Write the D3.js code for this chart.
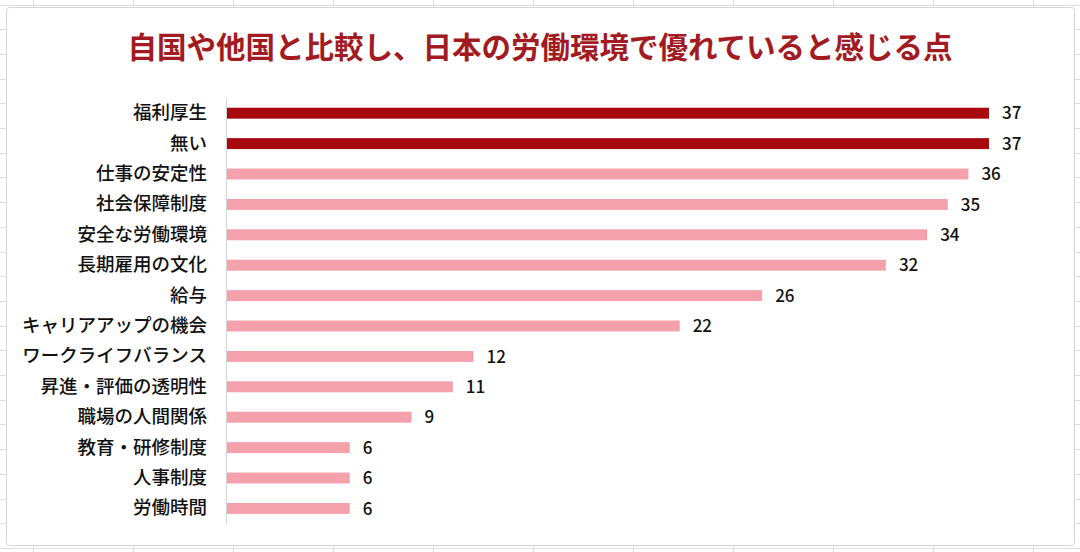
<!DOCTYPE html>
<html>
<head>
<meta charset="utf-8">
<script src="https://cdn.jsdelivr.net/npm/d3@7"></script>
<style>
  body { margin: 0; background: #ffffff; }
  #main { width: 1080px; height: 552px; position: relative; overflow: hidden; }
  text { font-family: "Noto Sans CJK JP", "Noto Sans", sans-serif; }
</style>
</head>
<body>
<div id="main"></div>
<script>
"use strict";

// data
var categories = ["福利厚生", "無い", "仕事の安定性", "社会保障制度", "安全な労働環境", "長期雇用の文化", "給与",
    "キャリアアップの機会", "ワークライフバランス", "昇進・評価の透明性", "職場の人間関係", "教育・研修制度", "人事制度", "労働時間"];
var values = [37, 37, 36, 35, 34, 32, 26, 22, 12, 11, 9, 6, 6, 6];
var highlighted = ["福利厚生", "無い"];
var title = "自国や他国と比較し、日本の労働環境で優れていると感じる点";

var width = 1080, height = 552;

var svg = d3.select('#main')
    .append("svg")
    .attr("width", width)
    .attr("height", height);

// spreadsheet grid behind the chart
var grid = svg.append("g").attr("stroke", "#dedede").attr("stroke-width", 1);
grid.selectAll("line.v").data(d3.range(33, width, 100)).enter().append("line")
    .attr("x1", function(d){ return d + .5; }).attr("x2", function(d){ return d + .5; })
    .attr("y1", 0).attr("y2", height);
grid.selectAll("line.h").data(d3.range(4.5, height, 24.7)).enter().append("line")
    .attr("y1", function(d){ return Math.round(d) + .5; }).attr("y2", function(d){ return Math.round(d) + .5; })
    .attr("x1", 0).attr("x2", width);

// chart frame
svg.append("rect")
    .attr("x", 6.5).attr("y", 7.5)
    .attr("width", 1068).attr("height", 538)
    .attr("rx", 3)
    .attr("fill", "#ffffff")
    .attr("stroke", "#d6d6d6");

svg.append("text")
    .attr("x", 540).attr("y", 58)
    .attr("text-anchor", "middle")
    .attr("fill", "#a31b22")
    .style("font-size", "29.5px")
    .style("font-weight", "700")
    .text(title);

var x = d3.scaleLinear().domain([0, 37]).range([226, 989]);
var y = d3.scaleBand().domain(categories).range([98, 523.6]).paddingInner(.64).paddingOuter(.32);

// category axis
var yAxis = svg.append("g")
    .attr("transform", "translate(226,0)")
    .call(d3.axisLeft(y).tickSize(0).tickPadding(19));
yAxis.select(".domain").attr("stroke", "#d4d4d4");
yAxis.selectAll("text")
    .attr("fill", "#111")
    .style("font-size", "18.5px")
    .style("font-weight", "500")
    .style("font-family", "\"Noto Sans CJK JP\", sans-serif");

var rows = svg.append("g").selectAll("g").data(categories).enter().append("g");

rows.append("rect")
    .attr("x", x(0) + 1)
    .attr("y", function(d){ return y(d); })
    .attr("width", function(d, i){ return x(values[i]) - x(0) - 1; })
    .attr("height", y.bandwidth())
    .attr("fill", function(d){ return highlighted.indexOf(d) >= 0 ? "#a8090f" : "#f4a1ac"; });

rows.append("text")
    .attr("x", function(d, i){ return x(values[i]) + 13; })
    .attr("y", function(d){ return y(d) + y.bandwidth() / 2; })
    .attr("dy", "0.36em")
    .attr("fill", "#111")
    .style("font-size", "17px")
    .style("font-weight", "500")
    .text(function(d, i){ return values[i]; });
</script>
</body>
</html>
